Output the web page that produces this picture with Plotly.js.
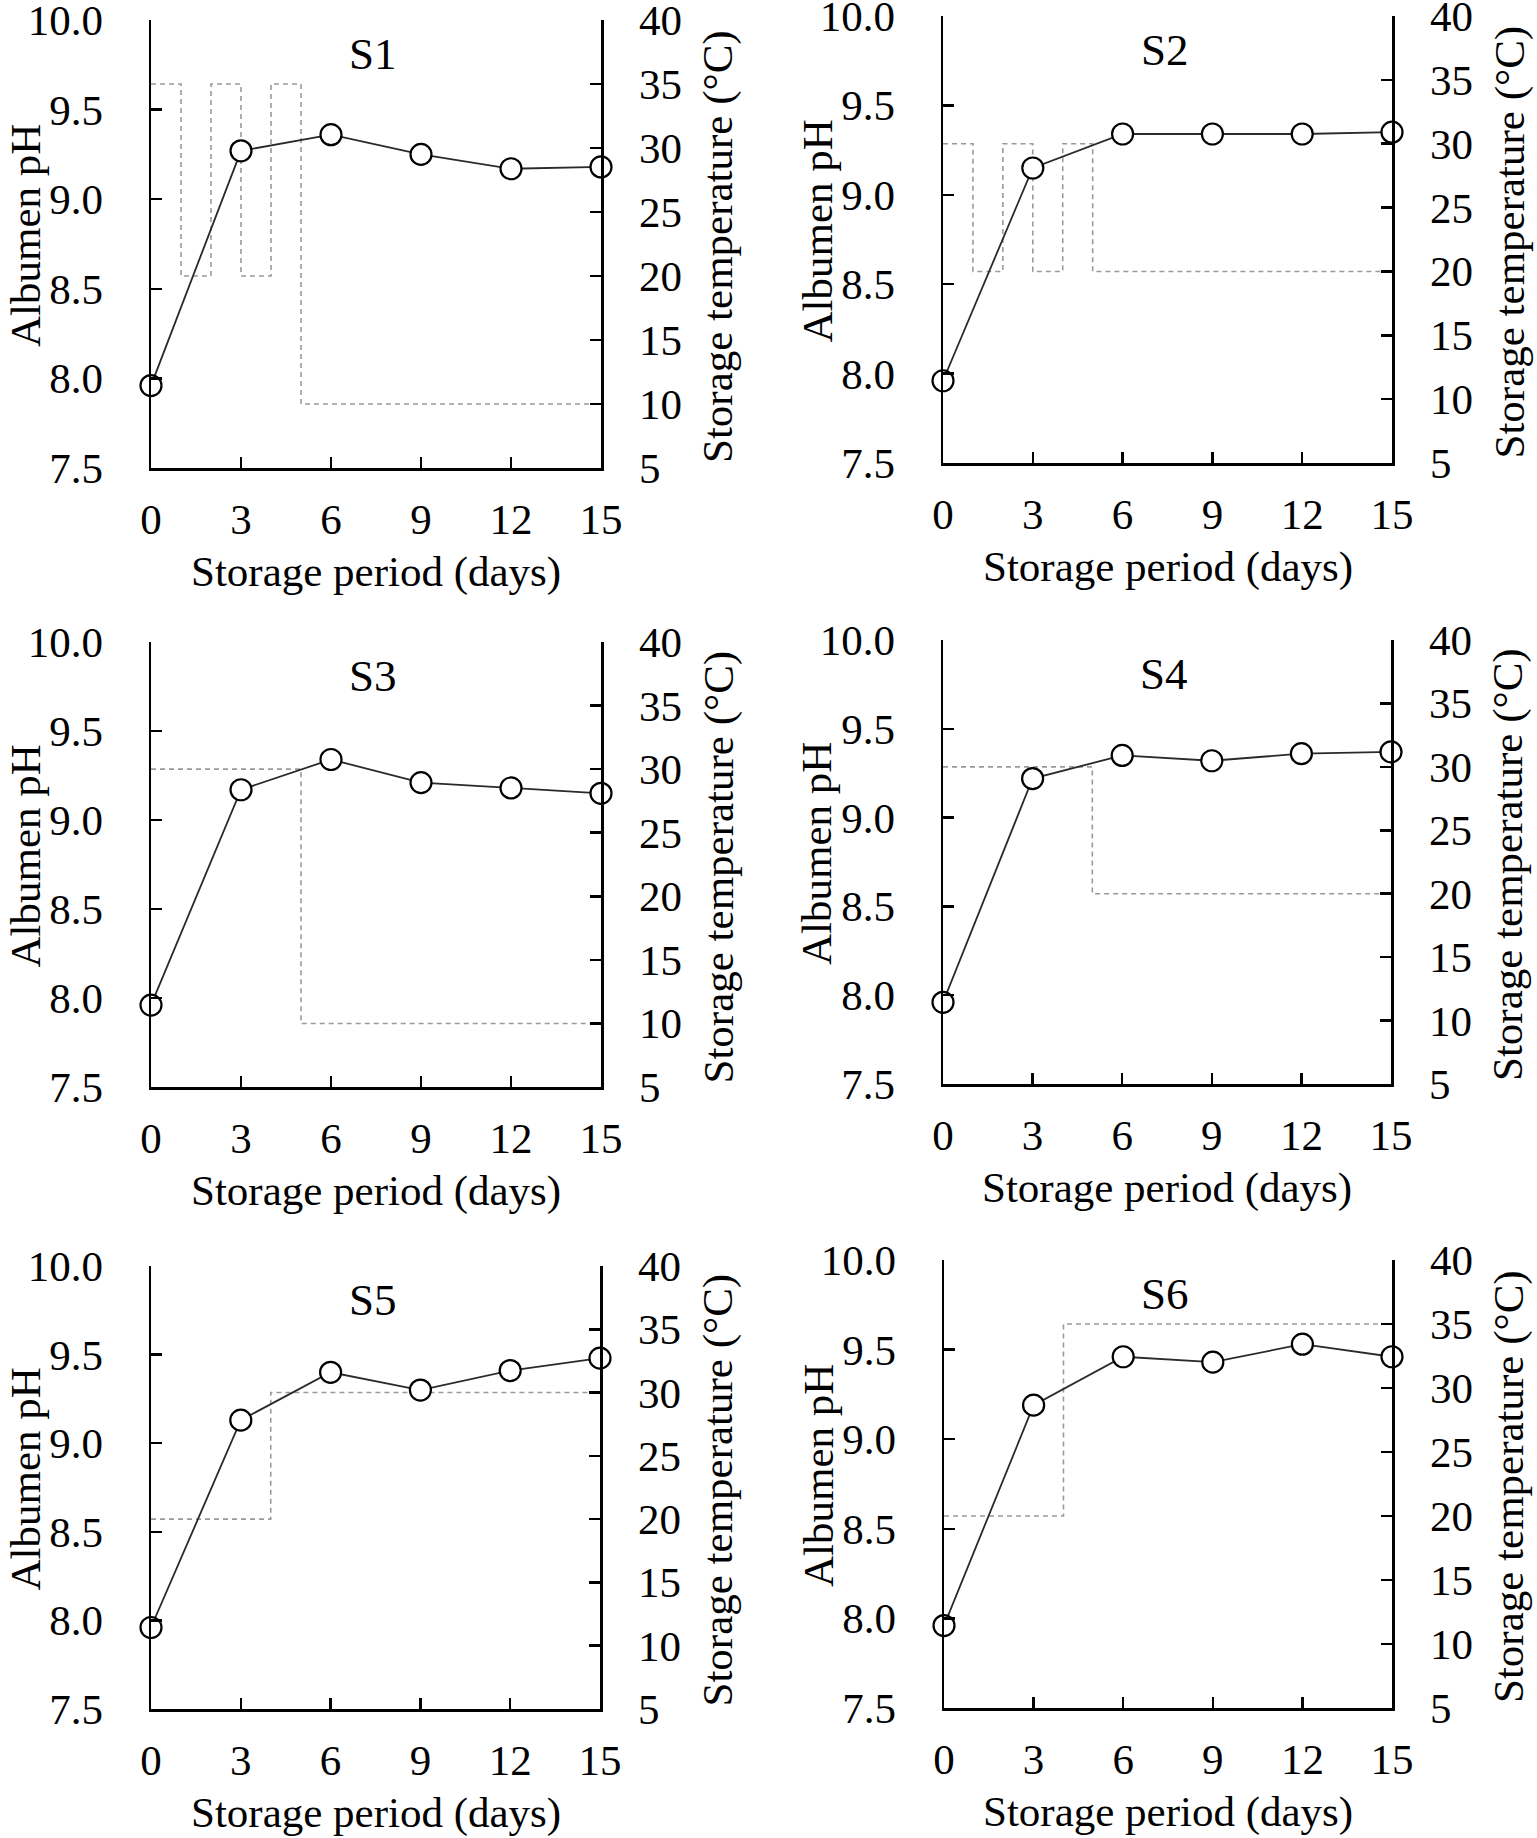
<!DOCTYPE html>
<html>
<head>
<meta charset="utf-8">
<script src="https://cdn.plot.ly/plotly-3.0.1.min.js"></script>
<style>html,body{margin:0;padding:0;background:#fff;}#chart{width:1537px;height:1838px;}</style>
</head>
<body>
<div id="chart"></div>
<script>
// ---- data ----
const panelNames = ["S1", "S2", "S3", "S4", "S5", "S6"];
const days = [0, 3, 6, 9, 12, 15];
const phS1 = [7.96, 9.27, 9.36, 9.25, 9.17, 9.18];
const phS2 = [7.96, 9.15, 9.34, 9.34, 9.34, 9.35];
const phS3 = [7.96, 9.17, 9.34, 9.21, 9.18, 9.15];
const phS4 = [7.96, 9.22, 9.35, 9.32, 9.36, 9.37];
const phS5 = [7.96, 9.13, 9.40, 9.30, 9.41, 9.48];
const phS6 = [7.96, 9.19, 9.46, 9.43, 9.53, 9.46];
const tempDaysS1 = [0, 1, 2, 3, 4, 5, 15];
const tempS1 = [35, 20, 35, 20, 35, 10, 10];
const tempDaysS2 = [0, 1, 2, 3, 4, 5, 15];
const tempS2 = [30, 20, 30, 20, 30, 20, 20];
const tempDaysS3 = [0, 5, 15];
const tempS3 = [30, 10, 10];
const tempDaysS4 = [0, 5, 15];
const tempS4 = [30, 20, 20];
const tempDaysS5 = [0, 4, 15];
const tempS5 = [20, 30, 30];
const tempDaysS6 = [0, 4, 15];
const tempS6 = [20, 35, 35];
const xTicks = [0, 3, 6, 9, 12, 15];
const phTicks = [7.5, 8.0, 8.5, 9.0, 9.5, 10.0];
const tempTicks = [5, 10, 15, 20, 25, 30, 35, 40];
const xTitle = "Storage period (days)";
const phTitle = "Albumen pH";
const tempTitle = "Storage temperature (°C)";

const phSeries = [phS1, phS2, phS3, phS4, phS5, phS6];
const tempDaysSeries = [tempDaysS1, tempDaysS2, tempDaysS3, tempDaysS4, tempDaysS5, tempDaysS6];
const tempSeries = [tempS1, tempS2, tempS3, tempS4, tempS5, tempS6];

// ---- layout geometry (px) ----
const W = 1537, H = 1838;
const boxes = [
  [151, 601, 20, 468],
  [943, 1392, 16, 463],
  [151, 601, 642, 1087],
  [943, 1391, 640, 1084],
  [151, 600, 1266, 1709],
  [944, 1392, 1260, 1708]
];
const FONT = "'Liberation Serif', 'Times New Roman', Times, serif";
const FS = 43;

const traces = [];
const layout = {
  width: W, height: H,
  margin: {l: 0, r: 0, t: 0, b: 0},
  paper_bgcolor: "#fff", plot_bgcolor: "rgba(0,0,0,0)",
  showlegend: false,
  font: {family: FONT, size: FS, color: "#000"},
  annotations: []
};

function px(x) { return x / W; }
function py(y) { return 1 - y / H; }

panelNames.forEach((name, i) => {
  const [x0, x1, y0, y1] = boxes[i];
  const xi = i + 1;
  const tBase = 2 * i + 1;   // temperature axis (base, right side)
  const pTop = 2 * i + 2;    // pH axis (overlay, left side)
  const xa = "xaxis" + (xi === 1 ? "" : xi);
  const ta = "yaxis" + (tBase === 1 ? "" : tBase);
  const pa = "yaxis" + pTop;
  const common = {
    showline: true, linecolor: "#000", linewidth: 2.5,
    ticks: "inside", ticklen: 11, tickwidth: 2.5, tickcolor: "#000",
    showgrid: false, zeroline: false, fixedrange: true,
    ticklabeloverflow: "allow",
    tickfont: {family: FONT, size: FS, color: "#000"}
  };
  layout[xa] = Object.assign({}, common, {
    domain: [px(x0), px(x1)], anchor: "y" + tBase,
    range: [0, 15], tickmode: "array", tickvals: xTicks,
    ticklabelstandoff: 12
  });
  layout[ta] = Object.assign({}, common, {
    domain: [py(y1), py(y0)], anchor: "x" + xi, side: "right",
    range: [5, 40], tickmode: "array", tickvals: tempTicks,
    ticklabelstandoff: 27
  });
  layout[pa] = Object.assign({}, common, {
    domain: [py(y1), py(y0)], anchor: "x" + xi, side: "left",
    overlaying: "y" + tBase,
    range: [7.5, 10], tickmode: "array", tickvals: phTicks,
    ticktext: phTicks.map(v => v.toFixed(1)),
    ticklabelstandoff: 37
  });

  traces.push({
    type: "scatter", mode: "lines",
    x: tempDaysSeries[i], y: tempSeries[i],
    xaxis: "x" + xi, yaxis: "y" + tBase,
    line: {color: "#9a9a9a", width: 1.6, dash: "5px,4px", shape: "hv"},
    hoverinfo: "skip"
  });
  traces.push({
    type: "scatter", mode: "lines+markers",
    x: days, y: phSeries[i],
    xaxis: "x" + xi, yaxis: "y" + pTop,
    cliponaxis: false,
    line: {color: "#2a2a2a", width: 1.8},
    marker: {symbol: "circle", size: 21, color: "#fff", line: {color: "#000", width: 2.2}}
  });

  const mx = (x0 + x1) / 2, my = (y0 + y1) / 2;
  layout.annotations.push(
    {text: name, xref: "paper", yref: "paper", x: px(mx - 3), y: py(y0 + 34),
     xanchor: "center", yanchor: "middle", showarrow: false,
     font: {family: FONT, size: 45, color: "#000"}},
    {text: phTitle, xref: "paper", yref: "paper", x: px(x0 - 126), y: py(my - 8),
     xanchor: "center", yanchor: "middle", textangle: -90, showarrow: false,
     font: {family: FONT, size: FS, color: "#000"}},
    {text: tempTitle, xref: "paper", yref: "paper", x: px(x1 + 117), y: py(my + 3),
     xanchor: "center", yanchor: "middle", textangle: -90, showarrow: false,
     font: {family: FONT, size: FS, color: "#000"}},
    {text: xTitle, xref: "paper", yref: "paper", x: px(mx), y: py(y1 + 104),
     xanchor: "center", yanchor: "middle", showarrow: false,
     font: {family: FONT, size: FS, color: "#000"}}
  );
});

Plotly.newPlot("chart", traces, layout, {displayModeBar: false, staticPlot: true});
</script>
</body>
</html>
